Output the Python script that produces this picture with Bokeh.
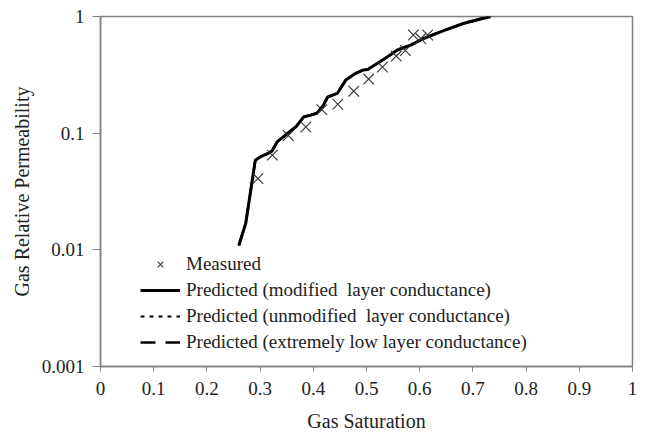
from bokeh.plotting import figure
from bokeh.models import FixedTicker, NumeralTickFormatter, Legend, LegendItem
from bokeh.embed import file_html
from bokeh.resources import INLINE

# Measured data
meas_sg = [0.296, 0.323, 0.353, 0.386, 0.416, 0.446, 0.476, 0.504, 0.530, 0.556, 0.573, 0.588, 0.602, 0.615]
meas_krg = [0.0408, 0.0648, 0.0952, 0.113, 0.159, 0.177, 0.229, 0.291, 0.369, 0.458, 0.511, 0.694, 0.647, 0.694]

# Predicted (modified layer conductance)
pred_sg = [0.260, 0.273, 0.291, 0.301, 0.314, 0.322, 0.332, 0.352, 0.367, 0.382, 0.395, 0.407,
           0.419, 0.427, 0.445, 0.461, 0.479, 0.493, 0.502, 0.520, 0.539, 0.558, 0.583, 0.607,
           0.645, 0.682, 0.714, 0.733]
pred_krg = [0.0109, 0.0169, 0.0586, 0.0628, 0.0667, 0.0701, 0.0842, 0.100, 0.113, 0.138, 0.1427, 0.1485,
            0.174, 0.204, 0.219, 0.285, 0.324, 0.347, 0.351, 0.395, 0.449, 0.516, 0.569, 0.647,
            0.758, 0.871, 0.952, 0.996]

# The unmodified / extremely-low predictions coincide with the modified curve in the picture
unmod_sg, unmod_krg = pred_sg, pred_krg
low_sg, low_krg = pred_sg, pred_krg

x_ticks = [0, 0.1, 0.2, 0.3, 0.4, 0.5, 0.6, 0.7, 0.8, 0.9, 1]
y_ticks = [0.001, 0.01, 0.1, 1]

legend_labels = ["Measured",
                 "Predicted (modified  layer conductance)",
                 "Predicted (unmodified  layer conductance)",
                 "Predicted (extremely low layer conductance)"]

FONT = "Liberation Serif"
GRAY = "#808080"
TXT = "#222222"

p = figure(width=648, height=436, y_axis_type="log",
           x_range=(0, 1), y_range=(0.001, 1),
           output_backend="svg", toolbar_location=None,
           min_border_left=100, min_border_right=16, min_border_top=16, min_border_bottom=70)
p.grid.visible = False
p.outline_line_color = GRAY
p.outline_line_width = 1.5
p.background_fill_color = "white"
p.border_fill_color = "white"

for ax in (p.xaxis[0], p.yaxis[0]):
    ax.axis_line_color = GRAY
    ax.axis_line_width = 1.5
    ax.major_tick_line_color = GRAY
    ax.minor_tick_line_color = None
    ax.major_tick_in = 0
    ax.major_label_text_font = FONT
    ax.major_label_text_font_size = "19px"
    ax.major_label_text_color = TXT
    ax.axis_label_text_font = FONT
    ax.axis_label_text_font_size = "20px"
    ax.axis_label_text_font_style = "normal"
    ax.axis_label_text_color = TXT

p.xaxis.ticker = FixedTicker(ticks=x_ticks)
p.xaxis.formatter = NumeralTickFormatter(format="0.[0]")
p.xaxis.major_tick_out = 5
p.xaxis.major_label_standoff = 10
p.xaxis.axis_label = "Gas Saturation"
p.xaxis.axis_label_standoff = 12

p.yaxis.ticker = FixedTicker(ticks=y_ticks)
p.yaxis.formatter = NumeralTickFormatter(format="0.[000]")
p.yaxis.major_tick_out = 8
p.yaxis.major_label_standoff = 8
p.yaxis.axis_label = "Gas Relative Permeability"
p.yaxis.axis_label_standoff = 6

r_unmod = p.line(unmod_sg, unmod_krg, line_color="black", line_width=2, line_dash="4 5")
r_low = p.line(low_sg, low_krg, line_color="black", line_width=2.5, line_dash="15 10")
r_pred = p.line(pred_sg, pred_krg, line_color="black", line_width=3)
r_meas = p.scatter(meas_sg, meas_krg, marker="x", size=15, line_color="#333333", line_width=1.1)

legend = Legend(items=[
    LegendItem(label=legend_labels[0], renderers=[r_meas]),
    LegendItem(label=legend_labels[1], renderers=[r_pred]),
    LegendItem(label=legend_labels[2], renderers=[r_unmod]),
    LegendItem(label=legend_labels[3], renderers=[r_low]),
], location=(40, 13))
legend.label_text_font = FONT
legend.label_text_font_size = "19px"
legend.label_text_color = TXT
legend.glyph_width = 40
legend.glyph_height = 20
legend.label_height = 20
legend.label_standoff = 6
legend.spacing = 4
legend.padding = 0
legend.margin = 0
legend.border_line_alpha = 0
legend.background_fill_alpha = 0
p.add_layout(legend, "center")

open("out.html", "w").write(file_html(p, INLINE))
